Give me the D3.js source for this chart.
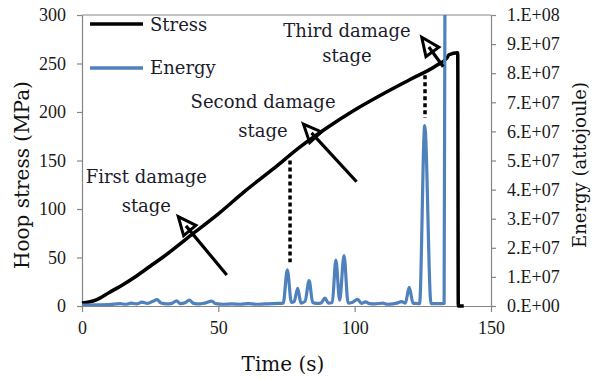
<!DOCTYPE html>
<html>
<head>
<meta charset="utf-8">
<script src="https://cdn.jsdelivr.net/npm/d3@7"></script>
<style>
  body { margin: 0; background: #fff; }
  svg { display: block; }
</style>
</head>
<body>
<svg id="chart" width="593" height="379"></svg>
<script>
// Hoop stress (MPa) over time (s)
const stressTime = [0, 5, 10, 15, 20, 25, 30, 40, 50, 60, 70, 80, 90, 100, 110, 120, 130, 133.9, 134.6, 137.8, 138.0, 140];
const stressMPa  = [3, 6, 14, 22, 31, 41, 51, 73, 95, 119, 141, 164, 184, 202, 218, 233, 248, 256, 259, 261, 0, 0];

// Acoustic energy over time, in units of 1e6 attojoule
const energyTime = [0, 5, 10, 14, 16, 18, 20, 22, 24, 26, 27.5, 29, 31, 33, 34.7, 36, 38, 39.3, 41, 43, 45, 47.6, 49,
  52, 55, 58, 61, 64, 67, 70, 72, 73.8, 75.3, 76.8, 77.8, 79.1, 80.3, 81.8, 83.3, 84.6, 86, 87.6, 89.1, 90.4, 91.8,
  93.1, 94.5, 96.1, 97.6, 99, 101.1, 102.5, 104, 105.5, 107.5, 110.3, 112, 114, 115.5, 117.2, 118.6, 120, 121.4,
  122.5, 123.8, 125.7, 128.0, 129.5, 131, 132.8, 134.0];
const energyE6 = [0.3, 0.4, 0.5, 0.8, 0.6, 1.0, 0.7, 1.3, 0.9, 1.6, 2.2, 1.0, 0.7, 0.9, 1.8, 0.8, 1.2, 2.0, 0.9, 0.7, 1.0, 1.7, 0.8,
  0.6, 0.7, 0.6, 0.8, 0.6, 0.7, 0.8, 0.9, 1.0, 12.4, 1.2, 1.5, 6.1, 1.0, 1.6, 8.7, 1.2, 0.9, 1.0, 2.7, 1.0, 1.2,
  15.8, 2.0, 17.3, 1.0, 1.2, 2.3, 0.9, 1.4, 0.8, 0.7, 1.0, 0.6, 0.7, 1.0, 1.5, 1.0, 6.4, 1.0,
  0.9, 0.8, 62, 0.8, 0.8, 0.8, 0.9, 400];

const timeTicks   = [0, 50, 100, 150];
const stressTicks = [0, 50, 100, 150, 200, 250, 300];
const energyTicks = [0, 1e7, 2e7, 3e7, 4e7, 5e7, 6e7, 7e7, 8e7, 9e7, 1e8];
const seriesNames = ["Stress", "Energy"];
const stageLabels = [["First damage", "stage"], ["Second damage", "stage"], ["Third damage", "stage"]];

// ---- layout ----
const plot = { left: 82, right: 491, top: 15, bottom: 306 };
const colStress = "#000000";
const colEnergy = "#4F81BD";
const colAxis = "#868686";
const tickFont = "'Liberation Serif', 'Times New Roman', serif";
const labelFont = "'DejaVu Serif', serif";

const svg = d3.select("#chart");

const x  = d3.scaleLinear().domain([0, 150]).range([plot.left, plot.right]);
const yS = d3.scaleLinear().domain([0, 300]).range([plot.bottom, plot.top]);
const yE = d3.scaleLinear().domain([0, 1e8]).range([plot.bottom, plot.top]);

svg.append("defs").append("clipPath").attr("id", "plotClip")
  .append("rect")
  .attr("x", plot.left).attr("y", plot.top)
  .attr("width", plot.right - plot.left).attr("height", plot.bottom - plot.top);

// top border of the plot area
svg.append("line")
  .attr("x1", plot.left).attr("x2", plot.right)
  .attr("y1", plot.top).attr("y2", plot.top)
  .attr("stroke", colAxis).attr("stroke-width", 1);

function styleAxis(g) {
  g.select(".domain").attr("stroke", colAxis).attr("stroke-width", 1.2);
  g.selectAll(".tick line").attr("stroke", colAxis).attr("stroke-width", 1.2);
  g.selectAll(".tick text").attr("fill", "#1a1a1a")
    .style("font-family", tickFont).style("font-size", "18px");
}

// left axis: stress
svg.append("g").attr("transform", `translate(${plot.left},0)`)
  .call(d3.axisLeft(yS).tickValues(stressTicks).tickSize(5).tickSizeOuter(0).tickPadding(11))
  .call(styleAxis);

// right axis: energy
const sci = d => {
  if (d === 0) return "0.E+00";
  const e = Math.floor(Math.log10(d) + 1e-9);
  return `${Math.round(d / Math.pow(10, e))}.E+${String(e).padStart(2, "0")}`;
};
svg.append("g").attr("transform", `translate(${plot.right},0)`)
  .call(d3.axisRight(yE).tickValues(energyTicks).tickFormat(sci).tickSize(5).tickSizeOuter(0).tickPadding(11))
  .call(styleAxis);

// bottom axis: time
svg.append("g").attr("transform", `translate(0,${plot.bottom})`)
  .call(d3.axisBottom(x).tickValues(timeTicks).tickSize(6).tickSizeOuter(0).tickPadding(9))
  .call(styleAxis);

// axis titles
svg.append("text")
  .attr("x", 283).attr("y", 371)
  .attr("text-anchor", "middle")
  .style("font-family", labelFont).style("font-size", "20px").attr("fill", "#111")
  .text("Time (s)");
svg.append("text")
  .attr("transform", "translate(29,175) rotate(-90)")
  .attr("text-anchor", "middle")
  .style("font-family", labelFont).style("font-size", "20px").attr("fill", "#111")
  .text("Hoop stress (MPa)");
svg.append("text")
  .attr("transform", "translate(586,165) rotate(-90)")
  .attr("text-anchor", "middle")
  .style("font-family", labelFont).style("font-size", "18px").attr("fill", "#111")
  .text("Energy (attojoule)");

// stress series
const stressData = stressTime.map((t, i) => [t, stressMPa[i]]);
svg.append("path")
  .datum(stressData)
  .attr("fill", "none").attr("stroke", colStress).attr("stroke-width", 3.5)
  .attr("stroke-linejoin", "round")
  .attr("d", d3.line().x(d => x(d[0])).y(d => yS(d[1])).curve(d3.curveMonotoneX));

// energy series (clipped to the plot area)
const energyData = energyTime.map((t, i) => [t, energyE6[i] * 1e6]);
svg.append("path")
  .datum(energyData)
  .attr("clip-path", "url(#plotClip)")
  .attr("fill", "none").attr("stroke", colEnergy).attr("stroke-width", 3.2)
  .attr("stroke-linejoin", "round")
  .attr("d", d3.line().x(d => x(d[0])).y(d => yE(d[1])).curve(d3.curveMonotoneX));

// dotted markers from stress curve down to energy bursts (time, stress range)
const stageMarks = [
  { t: 76.3, s0: 45, s1: 150 },
  { t: 125.8, s0: 194, s1: 238 }
];
svg.selectAll(".stageMark").data(stageMarks).join("line")
  .attr("class", "stageMark")
  .attr("x1", d => x(d.t)).attr("x2", d => x(d.t))
  .attr("y1", d => yS(d.s1)).attr("y2", d => yS(d.s0))
  .attr("stroke", "#000").attr("stroke-width", 3.5).attr("stroke-dasharray", "4,3");

// stage labels and arrows, positioned on the time/stress scales
const stagePos = [
  { t: 23.6, s: 126.8, tail: [53.1, 32.0], tip: [35.3, 92.1] },
  { t: 66.4, s: 204,   tail: [100.7, 128.1], tip: [81.2, 187.6] },
  { t: 97.2, s: 277.5, tail: [132.5, 246.7], tip: [124.6, 277.0] }
];
stagePos.forEach((p, i) => {
  const txt = svg.append("text")
    .attr("x", x(p.t)).attr("y", yS(p.s))
    .attr("text-anchor", "middle")
    .style("font-family", labelFont).style("font-size", "18px").attr("fill", "#1c1c2c");
  txt.append("tspan").attr("x", x(p.t)).attr("dy", 0).text(stageLabels[i][0]);
  txt.append("tspan").attr("x", x(p.t)).attr("dy", i === 2 ? 25 : 29).text(stageLabels[i][1]);

  const x0 = x(p.tail[0]), y0 = yS(p.tail[1]);
  const x1 = x(p.tip[0]),  y1 = yS(p.tip[1]);
  const ang = Math.atan2(y1 - y0, x1 - x0);
  const len = 18, half = 8;
  const bx = x1 - len * Math.cos(ang), by = y1 - len * Math.sin(ang);
  // shaft runs a little into the head
  const sx = x1 - (len - 6) * Math.cos(ang), sy = y1 - (len - 6) * Math.sin(ang);
  svg.append("line")
    .attr("x1", x0).attr("y1", y0).attr("x2", sx).attr("y2", sy)
    .attr("stroke", "#000").attr("stroke-width", 3.2);
  const px = -Math.sin(ang), py = Math.cos(ang);
  svg.append("path")
    .attr("d", `M${x1},${y1}L${bx + half * px},${by + half * py}L${bx - half * px},${by - half * py}Z`)
    .attr("fill", "none").attr("stroke", "#000").attr("stroke-width", 3).attr("stroke-linejoin", "miter");
});

// legend
const legend = svg.append("g");
const legendRows = [{ y: 24, c: colStress, ty: 31 }, { y: 68, c: colEnergy, ty: 74 }];
legendRows.forEach((r, i) => {
  legend.append("line")
    .attr("x1", 90).attr("x2", 143).attr("y1", r.y).attr("y2", r.y)
    .attr("stroke", r.c).attr("stroke-width", 3.5);
  legend.append("text")
    .attr("x", 150).attr("y", r.ty)
    .style("font-family", labelFont).style("font-size", "18px").attr("fill", "#1c1c2c")
    .text(seriesNames[i]);
});
</script>
</body>
</html>
